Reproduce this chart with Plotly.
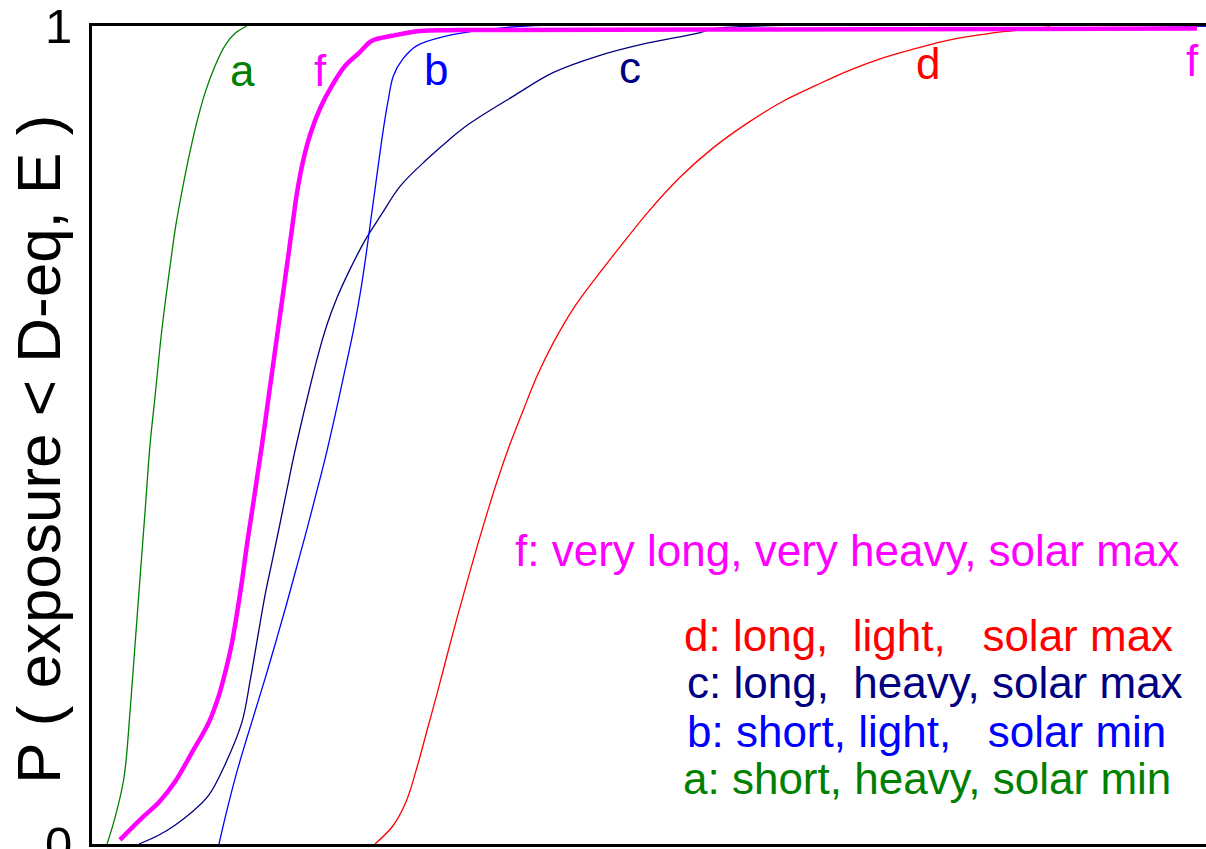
import plotly.graph_objects as go

# values: x in arbitrary units (0..10 across the plot), y = probability
a_x = [0.135, 0.206, 0.287, 0.341, 0.386, 0.431, 0.476, 0.521, 0.568, 0.612, 0.660, 0.709,
       0.752, 0.805, 0.865, 0.933, 1.014, 1.104, 1.194, 1.284, 1.391]
a_p = [0.0, 0.032, 0.081, 0.161, 0.243, 0.325, 0.406, 0.488, 0.550, 0.610, 0.665, 0.715,
       0.756, 0.796, 0.837, 0.878, 0.918, 0.951, 0.976, 0.991, 1.0]

b_x = [1.140, 1.200, 1.290, 1.380, 1.470, 1.560, 1.650, 1.740, 1.830, 1.920, 2.010, 2.110,
       2.200, 2.280, 2.350, 2.410, 2.460, 2.500, 2.540, 2.580, 2.620, 2.660, 2.705, 2.792,
       2.917, 3.187, 3.393, 3.9, 10.0]
b_p = [0.0, 0.035, 0.083, 0.125, 0.165, 0.205, 0.247, 0.290, 0.335, 0.380, 0.427, 0.481,
       0.535, 0.585, 0.630, 0.675, 0.720, 0.760, 0.800, 0.840, 0.878, 0.910, 0.939, 0.960,
       0.976, 0.988, 0.993, 1.0, 1.0]

c_x = [0.422, 0.601, 0.745, 0.898, 1.050, 1.194, 1.346, 1.420, 1.490, 1.553, 1.616, 1.679,
       1.745, 1.813, 1.880, 1.950, 2.030, 2.110, 2.200, 2.307, 2.451, 2.600, 2.765, 3.007,
       3.214, 3.393, 3.779, 4.138, 4.533, 4.982, 5.431, 5.6, 10.0]
c_p = [0.0, 0.011, 0.023, 0.039, 0.060, 0.097, 0.149, 0.200, 0.255, 0.304, 0.345, 0.386,
       0.430, 0.475, 0.515, 0.555, 0.598, 0.635, 0.668, 0.700, 0.738, 0.770, 0.804, 0.837,
       0.862, 0.881, 0.914, 0.943, 0.963, 0.979, 0.991, 0.997, 1.0]

d_x = [2.540, 2.700, 2.820, 2.920, 3.010, 3.100, 3.190, 3.280, 3.370, 3.460, 3.550, 3.640,
       3.750, 3.870, 3.995, 4.138, 4.318, 4.533, 4.740, 4.982, 5.278, 5.575, 5.880, 6.203,
       6.508, 6.804, 7.101, 7.406, 7.702, 8.178, 8.6]
d_p = [0.0, 0.022, 0.052, 0.095, 0.140, 0.185, 0.232, 0.278, 0.322, 0.365, 0.406, 0.445,
       0.488, 0.530, 0.572, 0.612, 0.654, 0.694, 0.730, 0.771, 0.815, 0.851, 0.881, 0.908,
       0.928, 0.946, 0.961, 0.973, 0.983, 0.993, 0.999]

f_x = [0.251, 0.449, 0.601, 0.745, 0.898, 1.050, 1.140, 1.200, 1.255, 1.305, 1.350, 1.391,
       1.436, 1.481, 1.526, 1.590, 1.633, 1.674, 1.716, 1.758, 1.799, 1.840, 1.895,
       1.960, 2.050, 2.154, 2.271, 2.397, 2.513, 2.693, 2.944, 3.303, 7.2, 9.919]
f_p = [0.005, 0.032, 0.051, 0.076, 0.112, 0.149, 0.182, 0.212, 0.245, 0.285, 0.325, 0.366,
       0.406, 0.447, 0.488, 0.551, 0.593, 0.633, 0.674, 0.715, 0.756, 0.796, 0.835,
       0.868, 0.900, 0.927, 0.951, 0.967, 0.982, 0.988, 0.994, 0.995, 0.996, 0.997]

# curve letters placed next to the curves
label_text = ["a", "f", "b", "c", "d", "f"]
label_x = [1.355, 2.047, 3.088, 4.830, 7.504, 9.883]
label_y = [0.945, 0.945, 0.947, 0.949, 0.954, 0.958]
label_col = ["#008000", "#ff00ff", "#0000ff", "#000080", "#ff0000", "#ff00ff"]

# key lines
key_text = ["f: very long, very heavy, solar max",
            "d: long,  light,   solar max",
            "c: long,  heavy, solar max",
            "b: short, light,   solar min",
            "a: short, heavy, solar min"]
key_x = [3.78, 5.30, 5.32, 5.32, 5.29]
key_y = [0.359, 0.255, 0.197, 0.138, 0.080]
key_col = ["#ff00ff", "#ff0000", "#000080", "#0000ff", "#008000"]

fig = go.Figure()

series = [
    (a_x, a_p, "#008000", 1.3),
    (c_x, c_p, "#000080", 1.3),
    (b_x, b_p, "#0000ff", 1.3),
    (d_x, d_p, "#ff0000", 1.3),
    (f_x, f_p, "#ff00ff", 4.5),
]
for xs, ps, col, w in series:
    fig.add_trace(go.Scatter(x=xs, y=ps, mode="lines",
                             line=dict(color=col, width=w, shape="spline", smoothing=1.0),
                             showlegend=False, hoverinfo="skip"))

font = "Liberation Sans, Arial, sans-serif"
for t, x, y, c in zip(label_text, label_x, label_y, label_col):
    fig.add_annotation(x=x, y=y, text=t, showarrow=False, xanchor="center", yanchor="middle",
                       font=dict(family=font, size=44, color=c))

for t, x, y, c in zip(key_text, key_x, key_y, key_col):
    fig.add_annotation(x=x, y=y, text=t, showarrow=False, xanchor="left", yanchor="middle",
                       font=dict(family=font, size=44, color=c))

# y axis title as a rotated annotation
fig.add_annotation(xref="paper", yref="paper", x=-0.0475, y=0.482,
                   xanchor="center", yanchor="middle",
                   text="P ( exposure < D-eq, E )", textangle=-90, showarrow=False,
                   font=dict(family=font, size=62, color="black"))

fig.update_xaxes(range=[0, 10], showgrid=False, zeroline=False, showticklabels=False,
                 ticks="", showline=True, linecolor="black", linewidth=3, mirror=True,
                 automargin=False)
fig.update_yaxes(range=[0, 1], tickvals=[0, 1], ticktext=["0", "1"], showgrid=False,
                 zeroline=False, ticks="outside", ticklen=7, tickcolor="rgba(0,0,0,0)",
                 ticklabeloverflow="allow", automargin=False,
                 showline=True, linecolor="black", linewidth=3,
                 tickfont=dict(family=font, size=49, color="black"))

fig.update_layout(width=1206, height=849, margin=dict(l=92, r=0, t=26, b=5),
                  plot_bgcolor="white", paper_bgcolor="white")

fig.write_html("out.html", config={"displayModeBar": False},
               post_script="document.body.style.margin='0';document.body.style.overflow='hidden';")
